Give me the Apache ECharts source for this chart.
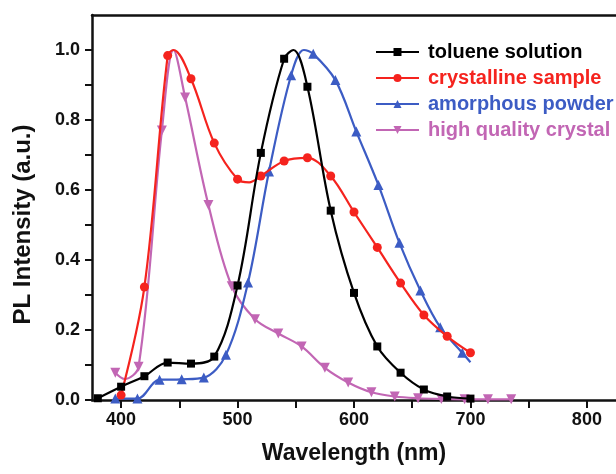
<!DOCTYPE html>
<html>
<head>
<meta charset="utf-8">
<script src="https://cdn.jsdelivr.net/npm/echarts@6/dist/echarts.min.js"></script>
<style>
  html, body { margin: 0; padding: 0; background: #fff; }
  #main { width: 616px; height: 474px; }
</style>
</head>
<body>
<div id="main"></div>
<script>
// marker points (every ~20 nm) and extra points that only shape the line
var tolueneX = [380, 400, 420, 440, 460, 480, 500, 520, 540, 560, 580, 600, 620, 640, 660, 680, 700];
var tolueneY = [0.005, 0.038, 0.068, 0.107, 0.104, 0.124, 0.327, 0.706, 0.975, 0.895, 0.541, 0.306, 0.153, 0.078, 0.030, 0.010, 0.004];
var tolueneExtraX = [548];
var tolueneExtraY = [1.0];

var crystallineX = [400, 420, 440, 460, 480, 500, 520, 540, 560, 580, 600, 620, 640, 660, 680, 700];
var crystallineY = [0.014, 0.323, 0.984, 0.918, 0.734, 0.631, 0.640, 0.683, 0.692, 0.640, 0.537, 0.436, 0.334, 0.243, 0.182, 0.135];
var crystallineExtraX = [445, 510];
var crystallineExtraY = [1.0, 0.622];

var amorphousX = [395, 414, 433, 452, 471, 490, 509, 527, 546, 565, 584, 602, 621, 639, 657, 674, 693];
var amorphousY = [0.004, 0.004, 0.058, 0.059, 0.064, 0.129, 0.336, 0.653, 0.928, 0.989, 0.914, 0.767, 0.614, 0.449, 0.313, 0.208, 0.135];
var amorphousExtraX = [557, 700];
var amorphousExtraY = [1.0, 0.108];

var crystalX = [395, 415, 435, 455, 475, 495, 515, 535, 555, 575, 595, 615, 635, 655, 675, 695, 715, 735];
var crystalY = [0.078, 0.095, 0.770, 0.864, 0.557, 0.325, 0.231, 0.190, 0.153, 0.092, 0.050, 0.022, 0.010, 0.005, 0.003, 0.002, 0.002, 0.002];
var crystalExtraX = [403, 445];
var crystalExtraY = [0.060, 1.0];

var seriesNames = ['toluene solution', 'crystalline sample', 'amorphous powder', 'high quality crystal'];
var seriesColors = ['#000000', '#f5231e', '#3c5cc4', '#c266b4'];
var seriesSymbols = ['rect', 'circle', 'triangle', 'path://M0,0 L10,0 L5,9 Z'];
var seriesSymbolSizes = [8, 9, 10, 10];

var xLabelValues = [400, 500, 600, 700, 800];
var xTickValues = [400, 450, 500, 550, 600, 650, 700, 750, 800];
var yLabelValues = [0, 0.2, 0.4, 0.6, 0.8, 1.0];
var yTickValues = [0, 0.1, 0.2, 0.3, 0.4, 0.5, 0.6, 0.7, 0.8, 0.9, 1.0];

function buildData(xs, ys, exs, eys) {
    var pts = [];
    for (var i = 0; i < xs.length; i++) pts.push({ value: [xs[i], ys[i]] });
    for (var j = 0; j < exs.length; j++) pts.push({ value: [exs[j], eys[j]], symbol: 'none' });
    pts.sort(function (a, b) { return a.value[0] - b.value[0]; });
    return pts;
}

var curves = [
    buildData(tolueneX, tolueneY, tolueneExtraX, tolueneExtraY),
    buildData(crystallineX, crystallineY, crystallineExtraX, crystallineExtraY),
    buildData(amorphousX, amorphousY, amorphousExtraX, amorphousExtraY),
    buildData(crystalX, crystalY, crystalExtraX, crystalExtraY)
];

var chartDom = document.getElementById('main');
var myChart = echarts.init(chartDom);
var option;

var font = 'Liberation Sans, Arial, sans-serif';

var series = [];
var legendData = [];
for (var k = 0; k < curves.length; k++) {
    series.push({
        name: seriesNames[k],
        type: 'line',
        smooth: 0.35,
        showAllSymbol: true,
        symbol: seriesSymbols[k],
        symbolSize: seriesSymbolSizes[k],
        color: seriesColors[k],
        lineStyle: { width: 2.2, color: seriesColors[k] },
        itemStyle: { color: seriesColors[k] },
        data: curves[k],
        z: 10 - k
    });
    legendData.push({ name: seriesNames[k], textStyle: { color: seriesColors[k] } });
}

option = {
    animation: false,
    backgroundColor: '#fff',
    grid: { left: 92, top: 15, right: -9, bottom: 74 },
    legend: {
        orient: 'vertical',
        left: 370,
        top: 37,
        itemWidth: 43,
        itemHeight: 10,
        itemGap: 6,
        textStyle: { fontFamily: font, fontWeight: 'bold', fontSize: 20, lineHeight: 20, padding: [0, 0, 0, 4] },
        data: legendData
    },
    xAxis: [{
        type: 'value',
        min: 375,
        max: 825,
        name: 'Wavelength (nm)',
        nameLocation: 'middle',
        nameGap: 42,
        nameTextStyle: { fontFamily: font, fontWeight: 'bold', fontSize: 23, color: '#111' },
        axisLine: { show: true, lineStyle: { color: '#111', width: 2.5 } },
        axisTick: { show: true, length: 8, customValues: xTickValues, lineStyle: { color: '#111', width: 2 } },
        axisLabel: { customValues: xLabelValues, margin: 11, fontFamily: font, fontWeight: 'bold', fontSize: 18, color: '#111' },
        splitLine: { show: false }
    }, {
        type: 'value',
        position: 'top',
        min: 375,
        max: 825,
        axisLine: { show: true, onZero: false, lineStyle: { color: '#111', width: 2.5 } },
        axisTick: { show: false },
        axisLabel: { show: false },
        splitLine: { show: false }
    }],
    yAxis: {
        type: 'value',
        min: 0,
        max: 1.1,
        interval: 0.1,
        name: 'PL Intensity (a.u.)',
        nameLocation: 'middle',
        nameGap: 57,
        nameTextStyle: { fontFamily: font, fontWeight: 'bold', fontSize: 24, color: '#111', padding: [0, 34, 0, 0] },
        axisLine: { show: true, lineStyle: { color: '#111', width: 2.5 } },
        axisTick: { show: true, length: 7, customValues: yTickValues, lineStyle: { color: '#111', width: 2 } },
        axisLabel: {
            customValues: yLabelValues,
            margin: 12,
            fontFamily: font, fontWeight: 'bold', fontSize: 18, color: '#111',
            formatter: function (v) { return v.toFixed(1); }
        },
        splitLine: { show: false }
    },
    series: series
};

option && myChart.setOption(option);
window.addEventListener("resize", function () {
    myChart.resize();
});
</script>
</body>
</html>
